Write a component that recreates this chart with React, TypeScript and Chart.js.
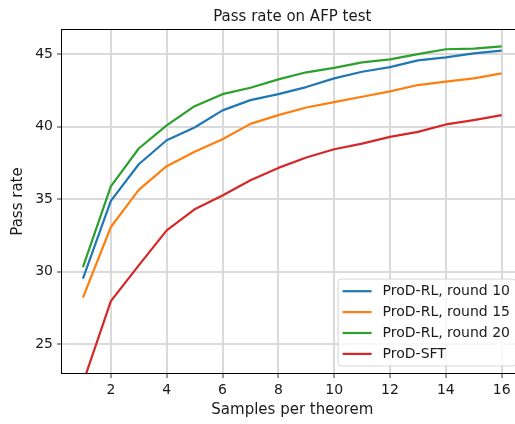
import React, { useEffect, useRef } from "react";
import { Chart, registerables } from "chart.js";

Chart.register(...registerables);

// ---- data ----
const samples = [1, 2, 3, 4, 5, 6, 7, 8, 9, 10, 11, 12, 13, 14, 15, 16];
const rlRound10 = [29.51, 34.88, 37.41, 39.07, 39.95, 41.13, 41.84, 42.25, 42.74, 43.34, 43.8, 44.12, 44.58, 44.79, 45.07, 45.25];
const rlRound15 = [28.2, 33.08, 35.64, 37.28, 38.27, 39.14, 40.2, 40.8, 41.33, 41.7, 42.07, 42.44, 42.88, 43.11, 43.34, 43.69];
const rlRound20 = [30.31, 35.89, 38.5, 40.09, 41.42, 42.25, 42.69, 43.27, 43.76, 44.07, 44.45, 44.65, 45.02, 45.35, 45.39, 45.55];
const sft = [22.3, 27.96, 30.43, 32.85, 34.3, 35.25, 36.31, 37.16, 37.88, 38.45, 38.84, 39.3, 39.65, 40.16, 40.46, 40.8];
const seriesLabels = ["ProD-RL, round 10", "ProD-RL, round 15", "ProD-RL, round 20", "ProD-SFT"];
const seriesValues = [rlRound10, rlRound15, rlRound20, sft];
const seriesColors = ["#1f77b4", "#ff7f0e", "#2ca02c", "#d62728"];
const xTicks = [2, 4, 6, 8, 10, 12, 14, 16];
const yTicks = [25, 30, 35, 40, 45];
const titleText = "Pass rate on AFP test";
const xTitle = "Samples per theorem";
const yTitle = "Pass rate";

const FONT = "'DejaVu Sans', sans-serif";
const CANVAS_W = 530;
const CANVAS_H = 424;

const mplPlugin = {
  id: "mplFrameLegend",
  afterDatasetsDraw(chart: any) {
    const { ctx, chartArea } = chart;
    ctx.save();
    // spines
    ctx.strokeStyle = "#000";
    ctx.lineWidth = 1;
    const l = Math.round(chartArea.left) - 0.5;
    const t = Math.round(chartArea.top) - 0.5;
    const r = Math.round(chartArea.right) + 0.5;
    const b = Math.round(chartArea.bottom) + 0.5;
    ctx.strokeRect(l, t, r - l, b - t);

    // legend
    const fs = 14;
    ctx.font = `${fs}px ${FONT}`;
    const items = chart.data.datasets.map((d: any) => ({ label: d.label, color: d.borderColor }));
    const textW = Math.max(...items.map((i: any) => ctx.measureText(i.label).width));
    const padL = 4.5, handle = 29, gap = 11, padR = 5.6, padT = 5.2, rowH = 13.8, spacing = 7.1;
    const w = padL + handle + gap + textW + padR;
    const h = padT * 2 + items.length * rowH + (items.length - 1) * spacing;
    const right = chartArea.right - 7;
    const bottom = chartArea.bottom - 7;
    const left = right - w;
    const top = bottom - h;
    ctx.beginPath();
    (ctx as any).roundRect(left, top, w, h, 3);
    ctx.fillStyle = "rgba(255,255,255,0.8)";
    ctx.fill();
    ctx.strokeStyle = "rgba(204,204,204,0.8)";
    ctx.lineWidth = 1;
    ctx.stroke();
    items.forEach((it: any, i: number) => {
      const cy = top + padT + rowH / 2 + i * (rowH + spacing);
      ctx.beginPath();
      ctx.strokeStyle = it.color;
      ctx.lineWidth = 2.2;
      ctx.moveTo(left + padL, cy);
      ctx.lineTo(left + padL + handle, cy);
      ctx.stroke();
      ctx.fillStyle = "#1a1a1a";
      ctx.textBaseline = "middle";
      ctx.textAlign = "left";
      ctx.fillText(it.label, left + padL + handle + gap, cy);
    });
    ctx.restore();
  },
};

export default function App() {
  const canvasRef = useRef<HTMLCanvasElement | null>(null);

  useEffect(() => {
    if (!canvasRef.current) return;
    const tickFont = { family: FONT, size: 14 };
    const labelFont = { family: FONT, size: 15 };
    const chart = new Chart(canvasRef.current, {
      type: "line",
      data: {
        datasets: seriesLabels.map((label, k) => ({
          label,
          data: samples.map((x, i) => ({ x, y: seriesValues[k][i] })),
          borderColor: seriesColors[k],
          backgroundColor: seriesColors[k],
          borderWidth: 2.2,
          pointRadius: 0,
          tension: 0,
          fill: false,
          borderJoinStyle: "round",
          clip: 0,
        })),
      },
      options: {
        responsive: false,
        animation: false,
        devicePixelRatio: 1,
        layout: { padding: { left: 5.5, right: CANVAS_W - 522.6, top: 0, bottom: 0 } },
        plugins: {
          legend: { display: false },
          tooltip: { enabled: false },
          title: {
            display: true,
            text: titleText,
            fullSize: false,
            color: "#1a1a1a",
            font: { family: FONT, size: 15, weight: "normal" },
            padding: { top: 8, bottom: 4 },
          },
        },
        scales: {
          x: {
            type: "linear",
            min: 0.25,
            max: 16.75,
            afterBuildTicks: (s: any) => {
              s.ticks = xTicks.map((v) => ({ value: v }));
            },
            afterFit: (s: any) => {
              s.height = 51;
            },
            grid: { color: "#dadada", lineWidth: 2, tickColor: "#333", tickWidth: 1, tickLength: 5, drawTicks: true },
            border: { display: false },
            ticks: { font: tickFont, color: "#1a1a1a", padding: 4, maxRotation: 0, autoSkip: false },
            title: { display: true, text: xTitle, color: "#1a1a1a", font: labelFont, padding: { top: 4, bottom: 5 } },
          },
          y: {
            type: "linear",
            min: 23,
            max: 46.68,
            afterBuildTicks: (s: any) => {
              s.ticks = yTicks.map((v) => ({ value: v }));
            },
            afterFit: (s: any) => {
              s.width = 56.5;
            },
            grid: { color: "#dadada", lineWidth: 2, tickColor: "#333", tickWidth: 1, tickLength: 5, drawTicks: true },
            border: { display: false },
            ticks: { font: tickFont, color: "#1a1a1a", padding: 4, autoSkip: false },
            title: { display: true, text: yTitle, color: "#1a1a1a", font: labelFont, padding: { top: 4, bottom: 4 } },
          },
        },
      } as any,
      plugins: [mplPlugin],
    });
    return () => chart.destroy();
  }, []);

  return (
    <div style={{ position: "fixed", left: 0, top: 0, width: 515, height: 424, overflow: "hidden", background: "#fff" }}>
      <canvas ref={canvasRef} width={CANVAS_W} height={CANVAS_H} style={{ width: CANVAS_W, height: CANVAS_H, display: "block" }} />
    </div>
  );
}
